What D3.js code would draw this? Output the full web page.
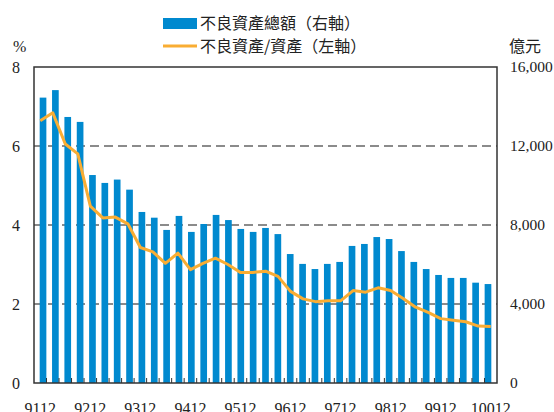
<!DOCTYPE html>
<html>
<head>
<meta charset="utf-8">
<script src="https://cdn.jsdelivr.net/npm/d3@7"></script>
<style>
  body { margin: 0; background: #fff; }
  .num { font-family: "Liberation Serif", "DejaVu Serif", serif; }
  .cjk { font-family: "Noto Sans CJK TC", sans-serif; }
</style>
</head>
<body>
<svg id="chart" width="554" height="412"></svg>
<script>
// quarters, ROC year + month
var quarters = ["9112","9203","9206","9209","9212","9303","9306","9309","9312",
  "9403","9406","9409","9412","9503","9506","9509","9512","9603","9606","9609",
  "9612","9703","9706","9709","9712","9803","9806","9809","9812","9903","9906",
  "9909","9912","10003","10006","10009","10012"];
// 不良資產總額 (億元, right axis)
var nplAmount = [14450,14830,13470,13220,10530,10130,10300,9790,8660,8370,7750,
  8460,7650,8050,8510,8250,7800,7650,7850,7540,6530,6030,5770,6030,6130,6940,
  7040,7390,7290,6680,6130,5770,5470,5320,5320,5080,5010];
// 不良資產/資產 (%, left axis)
var nplRatio = [6.64,6.84,6.05,5.80,4.48,4.18,4.20,4.03,3.43,3.32,3.03,3.29,
  2.87,3.03,3.16,3.00,2.80,2.80,2.83,2.70,2.32,2.13,2.06,2.08,2.08,2.34,2.30,
  2.41,2.34,2.14,1.92,1.79,1.63,1.59,1.55,1.44,1.43];
var leftTicks = [0, 2, 4, 6, 8];
var rightTicks = [0, 4000, 8000, 12000, 16000];
var xLabels = ["9112","9212","9312","9412","9512","9612","9712","9812","9912","10012"];

var svg = d3.select("#chart");
var pLeft = 34, pRight = 497, pTop = 67, pBottom = 383;
var barColor = "#0089cf", lineColor = "#f9ad33";

var x = d3.scaleBand().domain(quarters).range([pLeft, pRight]).padding(0.46);
var xOuter = d3.scaleBand().domain(quarters).range([pLeft, pRight]);
var yL = d3.scaleLinear().domain([0, 8]).range([pBottom, pTop]);
var yR = d3.scaleLinear().domain([0, 16000]).range([pBottom, pTop]);

// grid lines
svg.append("g").selectAll("line").data([2, 4, 6]).enter().append("line")
  .attr("x1", pLeft).attr("x2", pRight)
  .attr("y1", function(d){ return yL(d); }).attr("y2", function(d){ return yL(d); })
  .attr("stroke", "#666").attr("stroke-width", 1.5).attr("stroke-dasharray", "9,5");

// bars
svg.append("g").selectAll("rect").data(nplAmount).enter().append("rect")
  .attr("x", function(d, i){ return x(quarters[i]); })
  .attr("y", function(d){ return yR(d); })
  .attr("width", x.bandwidth())
  .attr("height", function(d){ return pBottom - yR(d); })
  .attr("fill", barColor);

// line
var line = d3.line()
  .x(function(d, i){ return xOuter(quarters[i]) + xOuter.bandwidth() / 2; })
  .y(function(d){ return yL(d); });
svg.append("path").datum(nplRatio)
  .attr("d", line).attr("fill", "none")
  .attr("stroke", lineColor).attr("stroke-width", 3).attr("stroke-linejoin", "round");

// frame
svg.append("rect").attr("x", pLeft).attr("y", pTop)
  .attr("width", pRight - pLeft).attr("height", pBottom - pTop)
  .attr("fill", "none").attr("stroke", "#333").attr("stroke-width", 1.5);

// bottom ticks (inside)
svg.append("g").selectAll("line").data(quarters.slice(1)).enter().append("line")
  .attr("x1", function(d){ return xOuter(d); }).attr("x2", function(d){ return xOuter(d); })
  .attr("y1", pBottom).attr("y2", pBottom - 5)
  .attr("stroke", "#333").attr("stroke-width", 1);

// left axis labels
svg.append("g").selectAll("text").data(leftTicks).enter().append("text")
  .attr("class", "num")
  .attr("x", 20).attr("y", function(d){ return yL(d); })
  .attr("dy", "0.35em").attr("text-anchor", "end")
  .attr("font-size", 16).attr("fill", "#222")
  .text(function(d){ return d; });

// right axis labels
svg.append("g").selectAll("text").data(rightTicks).enter().append("text")
  .attr("class", "num")
  .attr("x", 510).attr("y", function(d){ return yR(d); })
  .attr("dy", "0.35em").attr("text-anchor", "start")
  .attr("font-size", 15.5).attr("fill", "#222")
  .text(function(d){ return d3.format(",")(d); });

// x labels
svg.append("g").selectAll("text").data(xLabels).enter().append("text")
  .attr("class", "num")
  .attr("x", function(d){ return xOuter(d) + xOuter.bandwidth() / 2; })
  .attr("y", 414).attr("text-anchor", "middle")
  .attr("font-size", 16).attr("fill", "#222")
  .text(function(d){ return d; });

// units
svg.append("text").attr("class", "num").attr("x", 13).attr("y", 52)
  .attr("font-size", 16).attr("fill", "#222").text("%");
svg.append("text").attr("class", "cjk").attr("x", 509).attr("y", 52)
  .attr("font-size", 16).attr("fill", "#222").text("億元");

// legend
svg.append("rect").attr("x", 163).attr("y", 18).attr("width", 34).attr("height", 11).attr("fill", barColor);
svg.append("text").attr("class", "cjk").attr("x", 200).attr("y", 29)
  .attr("font-size", 16).attr("fill", "#222").text("不良資產總額（右軸）");
svg.append("line").attr("x1", 163).attr("x2", 197).attr("y1", 46).attr("y2", 46)
  .attr("stroke", lineColor).attr("stroke-width", 3);
svg.append("text").attr("class", "cjk").attr("x", 200).attr("y", 52)
  .attr("font-size", 16).attr("fill", "#222").text("不良資產/資產（左軸）");
</script>
</body>
</html>
